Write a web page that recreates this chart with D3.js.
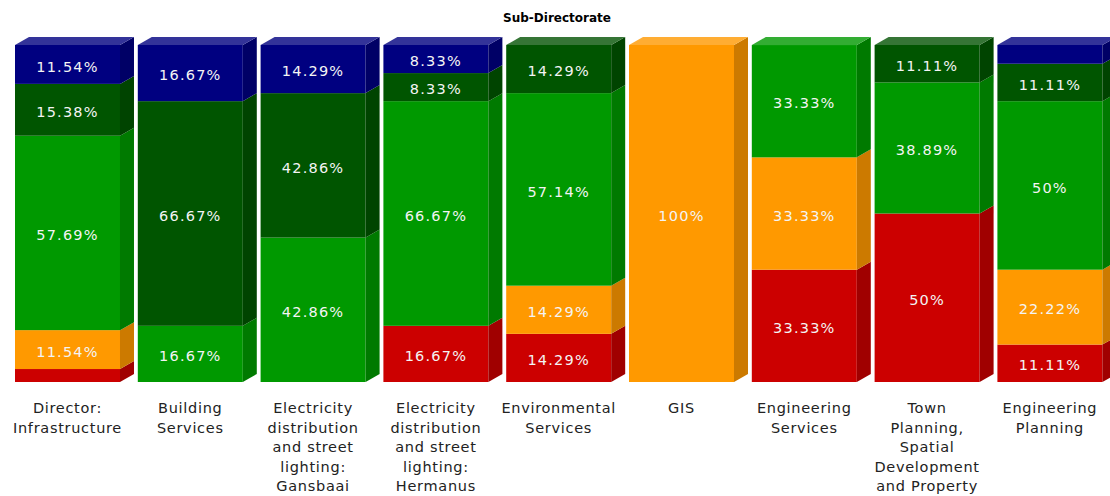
<!DOCTYPE html>
<html>
<head>
<meta charset="utf-8">
<script src="https://cdn.jsdelivr.net/npm/d3@7"></script>
<style>
  body { margin: 0; background: #fff; }
  text { font-family: "DejaVu Sans", Verdana, sans-serif; }
</style>
</head>
<body>
<script>
const width = 1110;
const height = 496;

// categories (line breaks as in the picture)
const categories = [
  'Director:\nInfrastructure',
  'Building\nServices',
  'Electricity\ndistribution\nand street\nlighting:\nGansbaai',
  'Electricity\ndistribution\nand street\nlighting:\nHermanus',
  'Environmental\nServices',
  'GIS',
  'Engineering\nServices',
  'Town\nPlanning,\nSpatial\nDevelopment\nand Property',
  'Engineering\nPlanning'
];

// series, bottom to top
const seriesKeys = ['red', 'orange', 'green', 'dark', 'navy'];
const red    = [3.85, 0, 0, 16.67, 14.29, 0, 33.33, 50, 11.11];
const orange = [11.54, 0, 0, 0, 14.29, 100, 33.33, 0, 22.22];
const green  = [57.69, 16.67, 42.86, 66.67, 57.14, 0, 33.33, 38.89, 50];
const dark   = [15.38, 66.67, 42.86, 8.33, 14.29, 0, 0, 11.11, 11.11];
const navy   = [11.54, 16.67, 14.29, 8.33, 0, 0, 0, 0, 5.56];

const colors = {
  red:    { front: '#cc0000', side: '#a00000', top: '#d83333' },
  orange: { front: '#ff9900', side: '#cc7a00', top: '#ffad33' },
  green:  { front: '#009900', side: '#007a00', top: '#33ad33' },
  dark:   { front: '#005500', side: '#004400', top: '#357535' },
  navy:   { front: '#000080', side: '#000066', top: '#333399' }
};

const rows = categories.map((c, i) => ({
  cat: c, red: red[i], orange: orange[i], green: green[i], dark: dark[i], navy: navy[i]
}));

const dx = 14, dy = 8;

const svg = d3.select('body').append('svg')
    .attr('width', width)
    .attr('height', height);

const x = d3.scaleBand()
    .domain(categories)
    .range([15, 1102.4])
    .paddingInner(0.145)
    .paddingOuter(0);

const y = d3.scaleLinear().domain([0, 100]).range([382, 45]);

const stack = d3.stack().keys(seriesKeys)(rows);

svg.append('text')
    .attr('x', 557)
    .attr('y', 22)
    .attr('text-anchor', 'middle')
    .attr('font-size', 12)
    .attr('font-weight', 'bold')
    .attr('fill', '#000')
    .text('Sub-Directorate');

const bars = svg.append('g').classed('bars', true);

categories.forEach((cat, i) => {
    const g = bars.append('g');
    const x0 = x(cat), x1 = x0 + x.bandwidth();
    const segs = stack.map(s => ({ key: s.key, y0: s[i][0], y1: s[i][1] }))
        .filter(d => d.y1 - d.y0 > 0);

    segs.forEach(d => {
        const yb = y(d.y0), yt = y(d.y1);
        g.append('rect')
            .attr('x', x0).attr('y', yt)
            .attr('width', x1 - x0).attr('height', yb - yt)
            .attr('fill', colors[d.key].front);
        g.append('path')
            .attr('d', `M${x1},${yb}L${x1 + dx},${yb - dy}L${x1 + dx},${yt - dy}L${x1},${yt}Z`)
            .attr('fill', colors[d.key].side);
    });

    const topSeg = segs[segs.length - 1];
    const yt = y(topSeg.y1);
    g.append('path')
        .attr('d', `M${x0},${yt}L${x0 + dx},${yt - dy}L${x1 + dx},${yt - dy}L${x1},${yt}Z`)
        .attr('fill', colors[topSeg.key].top);

    segs.filter(d => d.y1 - d.y0 > 7).forEach(d => {
        const v = d.y1 - d.y0;
        g.append('text')
            .attr('x', (x0 + x1) / 2)
            .attr('y', (y(d.y0) + y(d.y1)) / 2 + 2)
            .attr('dy', '0.36em')
            .attr('text-anchor', 'middle')
            .attr('font-size', 14.5)
            .attr('letter-spacing', 1.2)
            .attr('fill', '#f4f4f4')
            .text(d3.format('~')(+v.toFixed(2)) + '%');
    });
});

// category labels
const labels = svg.append('g').classed('x-labels', true);
categories.forEach(cat => {
    const t = labels.append('text')
        .attr('x', x(cat) + x.bandwidth() / 2)
        .attr('y', 413)
        .attr('text-anchor', 'middle')
        .attr('font-size', 14.5)
        .attr('letter-spacing', 0.7)
        .attr('fill', '#222');
    cat.split('\n').forEach((line, j) => {
        t.append('tspan')
            .attr('x', x(cat) + x.bandwidth() / 2)
            .attr('dy', j === 0 ? 0 : 19.5)
            .text(line);
    });
});
</script>
</body>
</html>
